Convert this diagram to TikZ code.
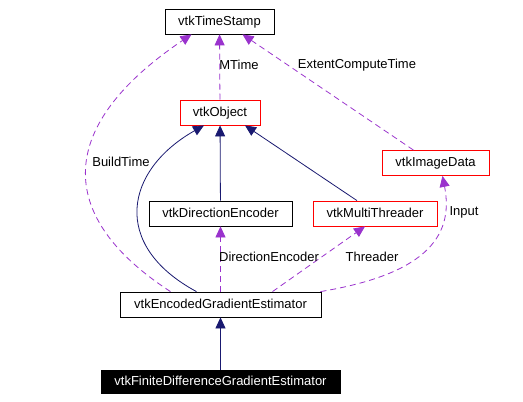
\documentclass[tikz,border=0pt]{standalone}
\usepackage{fontspec}
\setmainfont{Liberation Sans}
\usetikzlibrary{arrows.meta,calc}
\definecolor{depc}{RGB}{154,50,205}
\definecolor{inhc}{RGB}{25,25,112}
\tikzset{
  cls/.style={draw=black, line width=0.8pt, font=\fontsize{13}{15}\selectfont, inner sep=0pt, minimum height=25pt, text height=9.5pt, text depth=2.5pt},
  redcls/.style={cls, draw=red},
  selcls/.style={cls, fill=black, text=white},
  inhe/.style={draw=inhc, line width=0.8pt, -{Triangle[length=11pt,width=10pt]}},
  usee/.style={draw=depc, line width=0.8pt, dash pattern=on 6pt off 4pt, -{Triangle[length=11pt,width=10pt]}},
  lbl/.style={font=\fontsize{13}{15}\selectfont, inner sep=1pt}
}
\begin{document}
\begin{tikzpicture}[x=1pt,y=-1pt]
\useasboundingbox[fill=white] (0,0) rectangle (523,402);
\node[cls, minimum width=109pt] (ts) at (219.5,21.5) {vtkTimeStamp};
\node[redcls, minimum width=80pt] (obj) at (220,112.5) {vtkObject};
\node[redcls, minimum width=107pt] (img) at (435.5,163) {vtkImageData};
\node[cls, minimum width=143pt] (de) at (220.5,213.5) {vtkDirectionEncoder};
\node[redcls, minimum width=124pt] (mt) at (375,213.5) {vtkMultiThreader};
\node[cls, minimum width=201pt] (ege) at (220.5,304.5) {vtkEncodedGradientEstimator};
\node[selcls, minimum width=239pt, minimum height=23pt] (fd) at (220.5,381.5) {vtkFiniteDifferenceGradientEstimator};
% inheritance
\draw[inhe] (fd) -- (ege);
\draw[inhe] (de) -- (obj);
\draw[inhe] ($(mt.north)+(-18,0)$) -- ($(obj.south)+(25,0)$);
\draw[inhe] ($(ege.north)+(-24,0)$) .. controls (110,245) and (125,170) .. ($(obj.south)+(-16,0)$);
% usage
\draw[usee] (obj) -- (ts);
\draw[usee] ($(img.north)+(-22,0)$) -- ($(ts.south)+(23,0)$);
\draw[usee] ($(ege.north)+(-50,0)$) .. controls (60,220) and (50,130) .. ($(ts.south)+(-28,0)$);
\draw[usee] (ege.north) -- (de.south);
\draw[usee] ($(ege.north)+(52,0)$) -- ($(mt.south)+(-10,0)$);
\draw[usee] ($(ege.north east)+(-1,0)$) .. controls (420,275) and (455,240) .. ($(img.south)+(7,0)$);
% labels
\node[lbl] (l1) at (239,65) {MTime};
\node[lbl] (l2) at (357,65) {ExtentComputeTime};
\node[lbl] (l3) at (121,162) {BuildTime};
\node[lbl] (l4) at (269,257) {DirectionEncoder};
\node[lbl] (l5) at (372,257) {Threader};
\node[lbl] (l6) at (464,212) {Input};
\end{tikzpicture}
\end{document}
